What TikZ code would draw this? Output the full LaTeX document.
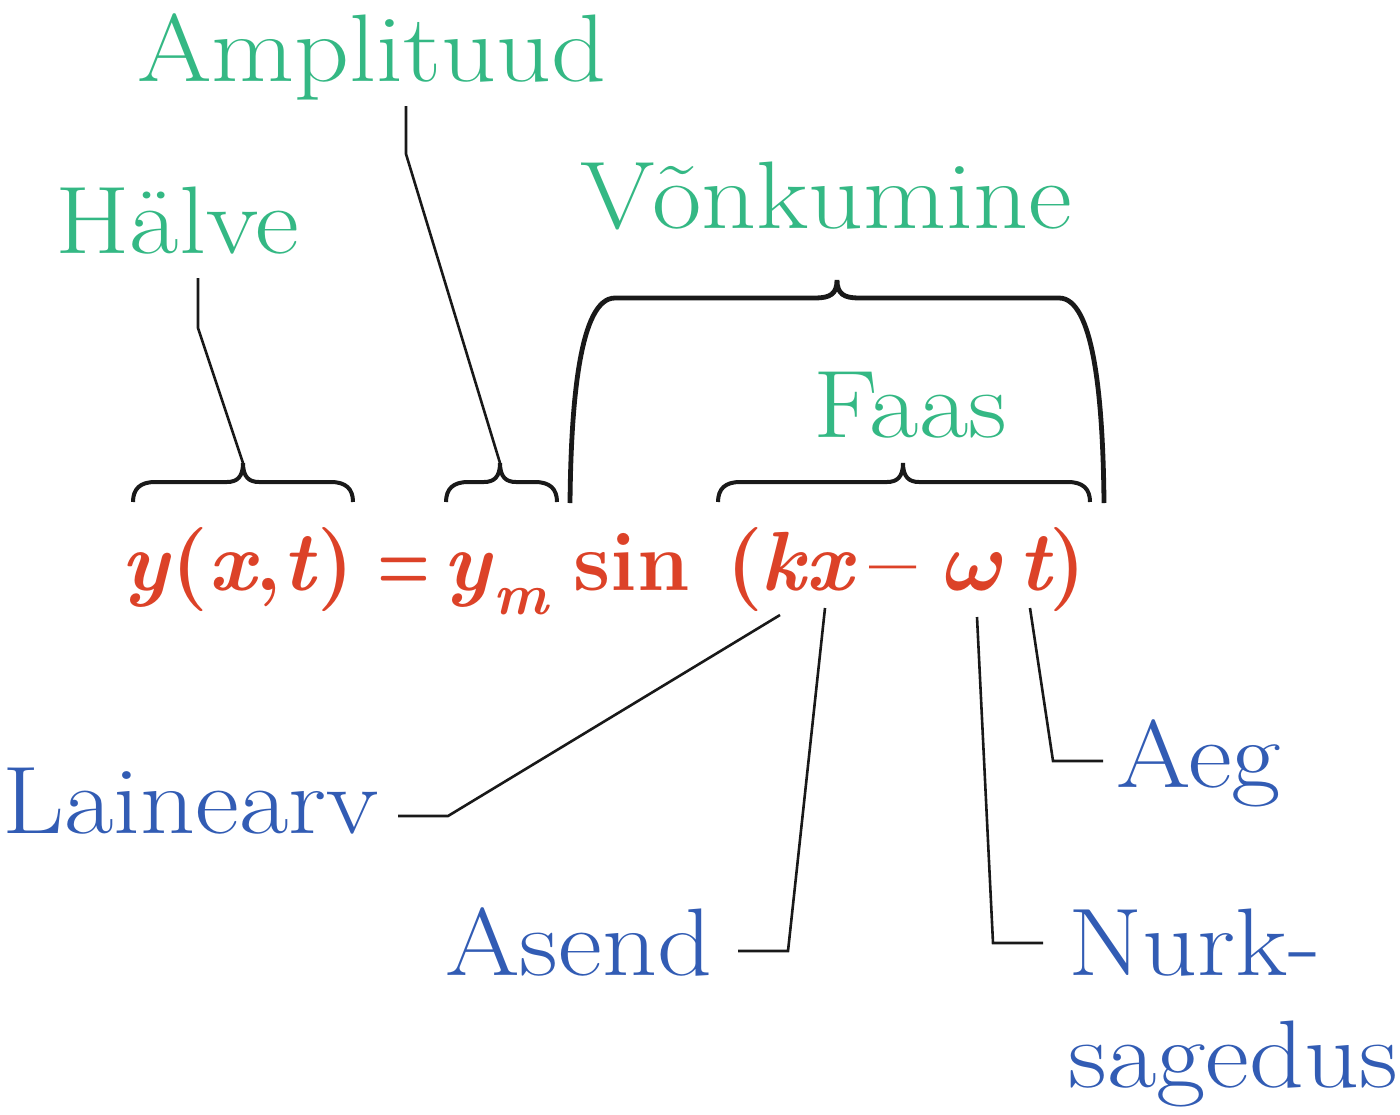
\documentclass[tikz,border=0pt]{standalone}
\usepackage{fontspec}
\setmainfont{Latin Modern Roman}[FakeStretch=1.12]
\newfontfamily\eqfont{Latin Modern Roman}
\newfontfamily\symfont{Latin Modern Math}
\definecolor{namegreen}{RGB}{52,184,132}
\definecolor{qtyblue}{RGB}{50,92,180}
\definecolor{eqred}{RGB}{220,66,40}
\tikzset{
  term/.style={font=\fontsize{48}{56}\selectfont, text=namegreen, inner sep=0pt, anchor=base west},
  qty/.style={font=\fontsize{48}{56}\selectfont, text=qtyblue, inner sep=0pt, anchor=base west},
  eqpart/.style={font=\eqfont\bfseries\fontsize{42}{50}\selectfont, text=eqred, inner sep=0pt, anchor=base west},
  bracket/.style={line width=2pt, black!90},
  leader/.style={line width=1.3pt, black!90}
}
% small curly brace over part of the equation: left x, right x, tip x
\newcommand{\smallbrace}[3]{%
  \draw[bracket] (#1,502) .. controls (#1,489) and (#1+7,482) .. (#1+22,482)
    -- (#3-16,482) .. controls (#3-6,482) and (#3,477) .. (#3,463)
    .. controls (#3,477) and (#3+6,482) .. (#3+16,482)
    -- (#2-22,482) .. controls (#2-7,482) and (#2,489) .. (#2,502);}
\begin{document}
\begin{tikzpicture}[x=0.5pt,y=-0.5pt]
  \useasboundingbox (0,0) rectangle (1400,1114);

  % the wave equation
  \node[eqpart,anchor=base] (lhs) at (238,590) {\textit{y}(\textit{x},\textit{t})};
  \node[eqpart,anchor=base,xscale=0.72] (eqsign) at (404,590) {=};
  \node[eqpart] (ymax) at (443,590) {\textit{y}\raisebox{-12pt}{\fontsize{29}{29}\selectfont\itshape m}};
  \node[eqpart] (sine) at (573,590) {sin};
  \node[eqpart] (lpar) at (726,590) {(};
  \node[eqpart] (kx) at (760,590) {\textit{kx}};
  \node[eqpart,anchor=base] (minus) at (893,590) {–};
  \node[eqpart] (omega) at (944,590) {{\symfont\symbol{"1D74E}}};
  \node[eqpart] (tvar) at (1018,590) {\textit{t}};
  \node[eqpart,anchor=base east] (rpar) at (1087,590) {)};

  % names above
  \node[term] (amplituud) at (137,81) {Amplituud};
  \node[term] (halve) at (55,253) {Hälve};
  \node[term] (vonkumine) at (580,228) {Võnkumine};
  \node[term] (faas) at (813,437) {Faas};

  % names below
  \node[qty] (lainearv) at (2,833) {Lainearv};
  \node[qty] (asend) at (445,975) {Asend};
  \node[qty] (aeg) at (1116,787) {Aeg};
  \node[qty] (nurk) at (1068,975) {Nurk-};
  \node[qty] (sagedus) at (1068,1087) {sagedus};

  % braces
  \coordinate (tiplhs) at (243,463);
  \coordinate (tipamp) at (500,463);
  \coordinate (tipfaas) at (903,463);
  \coordinate (tipvonk) at (837,280);
  \smallbrace{133}{353}{243}
  \smallbrace{446}{557}{500}
  \smallbrace{718}{1090}{903}
  \draw[bracket,line width=2.4pt] (570,503) .. controls (571,400) and (580,298) .. (615,298)
    -- (815,298) .. controls (830,298) and (837,294) .. (tipvonk)
    .. controls (837,294) and (844,298) .. (859,298)
    -- (1059,298) .. controls (1094,298) and (1103,400) .. (1104,503);

  % leaders to the braces
  \coordinate (halvetop) at (198,278);
  \coordinate (halvebend) at (198,328);
  \coordinate (amptop) at (406,106);
  \coordinate (ampbend) at (406,154);
  \draw[leader] (halvetop) -- (halvebend) -- (tiplhs);
  \draw[leader] (amptop) -- (ampbend) -- (tipamp);

  % leaders to the symbols
  \coordinate (kend) at (780,615);
  \coordinate (xend) at (825,608);
  \coordinate (wend) at (977,617);
  \coordinate (tend) at (1030,608);
  \coordinate (lainefoot) at (398,816);
  \coordinate (lainebend) at (448,816);
  \coordinate (asendfoot) at (738,951);
  \coordinate (asendbend) at (788,951);
  \coordinate (aegfoot) at (1103,761);
  \coordinate (aegbend) at (1053,761);
  \coordinate (nurkfoot) at (1043,943);
  \coordinate (nurkbend) at (993,943);
  \draw[leader] (lainefoot) -- (lainebend) -- (kend);
  \draw[leader] (asendfoot) -- (asendbend) -- (xend);
  \draw[leader] (aegfoot) -- (aegbend) -- (tend);
  \draw[leader] (nurkfoot) -- (nurkbend) -- (wend);
\end{tikzpicture}
\end{document}
